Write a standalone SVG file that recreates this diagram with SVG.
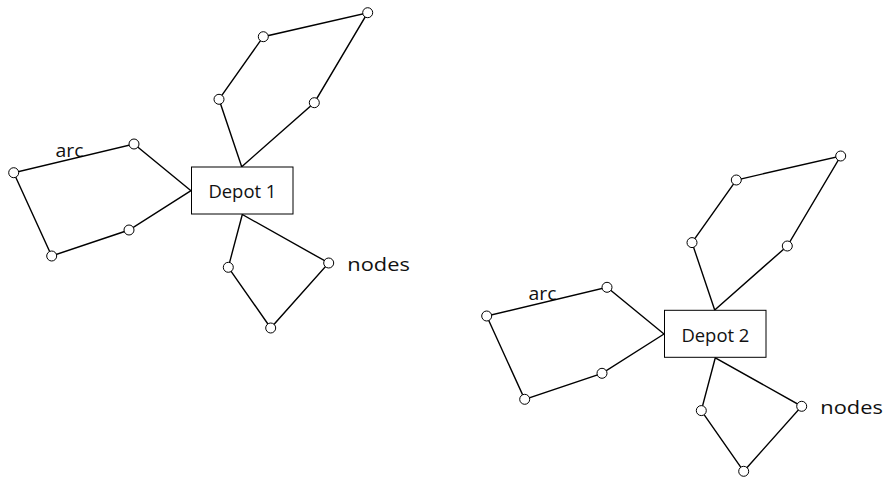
<svg xmlns="http://www.w3.org/2000/svg" width="885" height="477" viewBox="0 0 885 477">
<style>
.edge{stroke:#000;stroke-width:1.4;fill:none;stroke-linecap:round}
.node{fill:#fff;stroke:#000;stroke-width:1}
.depot{fill:#fff;stroke:#000;stroke-width:1}
.lbl{font-family:"Open Sans","Liberation Sans",sans-serif;fill:#111}
</style>
<rect width="885" height="477" fill="#fff"/>
<g id="network1">
  <g id="labels1" class="lbl">
    <text x="55.5" y="157" font-size="19" textLength="28" lengthAdjust="spacingAndGlyphs">arc</text>
    <text x="347.3" y="270.8" font-size="19" textLength="62.5" lengthAdjust="spacingAndGlyphs">nodes</text>
  </g>
  <g id="connectors1" class="edge">
    <path d="M241.7,166.7 L219,99.3 L263.3,36.7 L367.7,12.7 L314.3,102.7 Z"/>
    <path d="M191,190.7 L134,144 L13.7,172.7 L51.7,256 L129,230 Z"/>
    <path d="M242.3,214.5 L228.3,267.3 L270.7,328 L328.7,263 Z"/>
  </g>
  <g id="depot1">
    <rect class="depot" x="191.5" y="167" width="101.5" height="47"/>
    <text class="lbl" x="242.4" y="198.3" font-size="17.5" text-anchor="middle" textLength="68" lengthAdjust="spacingAndGlyphs">Depot 1</text>
  </g>
  <g id="n1a"><circle class="node" cx="367.7" cy="12.7" r="5"/></g>
  <g id="n1b"><circle class="node" cx="263.3" cy="36.7" r="5"/></g>
  <g id="n1c"><circle class="node" cx="219" cy="99.3" r="5"/></g>
  <g id="n1d"><circle class="node" cx="314.3" cy="102.7" r="5"/></g>
  <g id="n1e"><circle class="node" cx="134" cy="144" r="5"/></g>
  <g id="n1f"><circle class="node" cx="13.7" cy="172.7" r="5"/></g>
  <g id="n1g"><circle class="node" cx="129" cy="230" r="5"/></g>
  <g id="n1h"><circle class="node" cx="51.7" cy="256" r="5"/></g>
  <g id="n1i"><circle class="node" cx="228.3" cy="267.3" r="5"/></g>
  <g id="n1j"><circle class="node" cx="328.7" cy="263" r="5"/></g>
  <g id="n1k"><circle class="node" cx="270.7" cy="328" r="5"/></g>
</g>
<g id="network2" transform="translate(473,143.3)">
  <g id="labels2" class="lbl">
    <text x="55.5" y="157" font-size="19" textLength="28" lengthAdjust="spacingAndGlyphs">arc</text>
    <text x="347.3" y="270.8" font-size="19" textLength="62.5" lengthAdjust="spacingAndGlyphs">nodes</text>
  </g>
  <g id="connectors2" class="edge">
    <path d="M241.7,166.7 L219,99.3 L263.3,36.7 L367.7,12.7 L314.3,102.7 Z"/>
    <path d="M191,190.7 L134,144 L13.7,172.7 L51.7,256 L129,230 Z"/>
    <path d="M242.3,214.5 L228.3,267.3 L270.7,328 L328.7,263 Z"/>
  </g>
  <g id="depot2">
    <rect class="depot" x="191.5" y="167" width="101.5" height="47"/>
    <text class="lbl" x="242.4" y="198.3" font-size="17.5" text-anchor="middle" textLength="68" lengthAdjust="spacingAndGlyphs">Depot 2</text>
  </g>
  <g id="n2a"><circle class="node" cx="367.7" cy="12.7" r="5"/></g>
  <g id="n2b"><circle class="node" cx="263.3" cy="36.7" r="5"/></g>
  <g id="n2c"><circle class="node" cx="219" cy="99.3" r="5"/></g>
  <g id="n2d"><circle class="node" cx="314.3" cy="102.7" r="5"/></g>
  <g id="n2e"><circle class="node" cx="134" cy="144" r="5"/></g>
  <g id="n2f"><circle class="node" cx="13.7" cy="172.7" r="5"/></g>
  <g id="n2g"><circle class="node" cx="129" cy="230" r="5"/></g>
  <g id="n2h"><circle class="node" cx="51.7" cy="256" r="5"/></g>
  <g id="n2i"><circle class="node" cx="228.3" cy="267.3" r="5"/></g>
  <g id="n2j"><circle class="node" cx="328.7" cy="263" r="5"/></g>
  <g id="n2k"><circle class="node" cx="270.7" cy="328" r="5"/></g>
</g>
</svg>
